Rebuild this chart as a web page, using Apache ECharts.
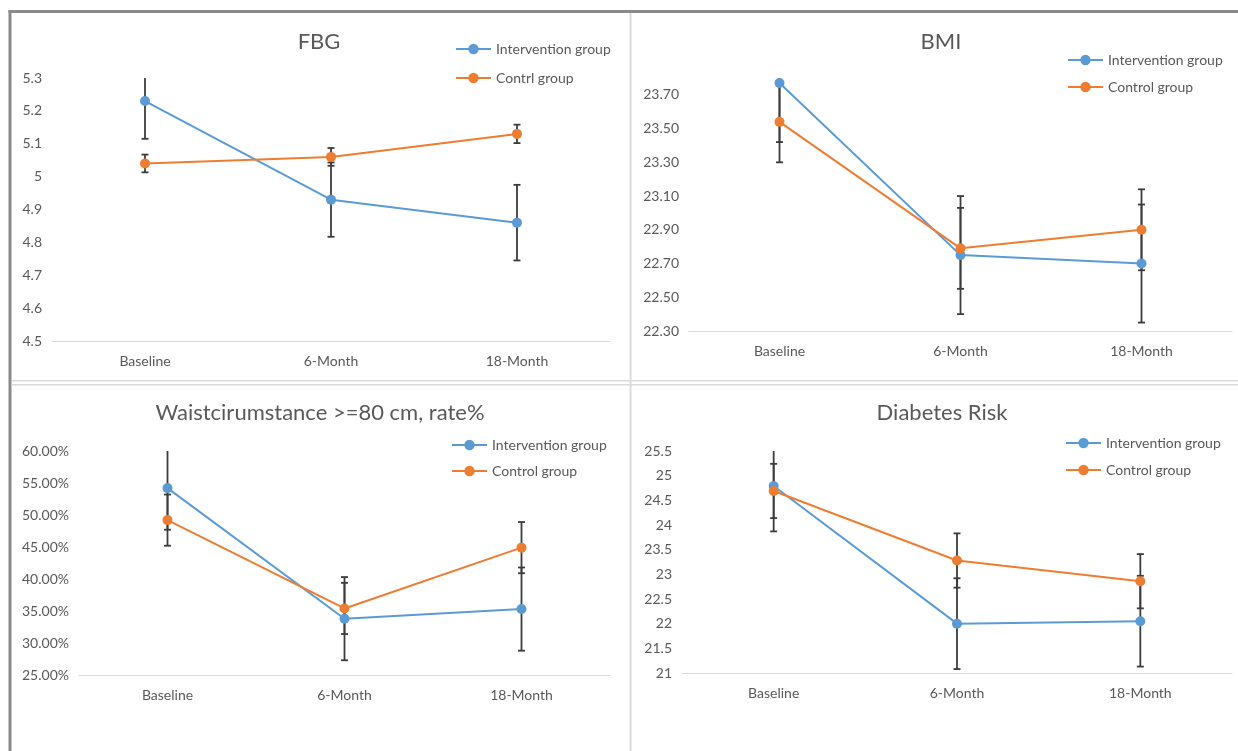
<!DOCTYPE html>
<html>
<head>
<meta charset="utf-8">
<script src="https://cdn.jsdelivr.net/npm/echarts@6/dist/echarts.min.js"></script>
<style>
  html, body { margin: 0; padding: 0; background: #ffffff; }
  #chart { width: 1238px; height: 751px; }
</style>
</head>
<body>
<div id="chart"></div>
<script>
// ---------- data ----------
const categories = ['Baseline', '6-Month', '18-Month'];

// FBG
const fbgIntervention = [5.23, 4.93, 4.86];
const fbgInterventionErr = [0.115, 0.113, 0.115];
const fbgControl = [5.04, 5.06, 5.13];
const fbgControlErr = [0.027, 0.027, 0.028];
const fbgTicks = [4.5, 4.6, 4.7, 4.8, 4.9, 5, 5.1, 5.2, 5.3];

// BMI
const bmiIntervention = [23.77, 22.75, 22.70];
const bmiInterventionErr = [0.35, 0.35, 0.35];
const bmiControl = [23.54, 22.79, 22.90];
const bmiControlErr = [0.24, 0.24, 0.24];
const bmiTicks = [22.3, 22.5, 22.7, 22.9, 23.1, 23.3, 23.5, 23.7];

// Waist circumference >= 80 cm, rate %
const waistIntervention = [54.2, 33.8, 35.3];
const waistInterventionErr = [6.5, 6.5, 6.5];
const waistControl = [49.2, 35.4, 44.9];
const waistControlErr = [4.0, 4.0, 4.0];
const waistTicks = [25, 30, 35, 40, 45, 50, 55, 60];

// Diabetes risk
const drIntervention = [24.79, 22.0, 22.05];
const drInterventionErr = [0.92, 0.92, 0.92];
const drControl = [24.69, 23.28, 22.86];
const drControlErr = [0.55, 0.55, 0.55];
const drTicks = [21, 21.5, 22, 22.5, 23, 23.5, 24, 24.5, 25, 25.5];

// ---------- styling ----------
const FONT = 'Lato';
const TXT = '#595959';
const BLUE = '#5B9BD5';
const ORANGE = '#ED7D31';
const ERR = '#3c3c3c';

const chart = echarts.init(document.getElementById('chart'), null, { renderer: 'canvas' });

const grids = [
  { left: 52, top: 78, width: 558, height: 263 },   // FBG
  { left: 689, top: 78, width: 543, height: 253 },  // BMI
  { left: 79, top: 451, width: 531, height: 224 },  // Waist
  { left: 682, top: 451, width: 550, height: 222 }  // Diabetes
];

function xAxisFor(i) {
  return {
    type: 'category', gridIndex: i, data: categories, boundaryGap: true,
    axisLine: { show: true, lineStyle: { color: '#d9d9d9', width: 1 } },
    axisTick: { show: false },
    axisLabel: { color: TXT, fontSize: 14, fontFamily: FONT, margin: 13 },
    splitLine: { show: false }
  };
}
function yAxisFor(i, min, max, ticks, fmt) {
  return {
    type: 'value', gridIndex: i, min: min, max: max,
    axisLine: { show: false }, axisTick: { show: false }, splitLine: { show: false },
    axisLabel: { color: TXT, fontSize: 14, fontFamily: FONT, margin: 10,
      customValues: ticks, formatter: fmt }
  };
}

function errRender(params, api) {
  const x = api.value(0), y = api.value(1), e = api.value(2);
  const top = api.coord([x, y + e]);
  const bot = api.coord([x, y - e]);
  const hw = 3.5;
  const st = { stroke: ERR, lineWidth: 1.8 };
  return {
    type: 'group',
    children: [
      { type: 'line', shape: { x1: top[0], y1: top[1], x2: bot[0], y2: bot[1] }, style: st },
      { type: 'line', shape: { x1: top[0] - hw, y1: top[1], x2: top[0] + hw, y2: top[1] }, style: st },
      { type: 'line', shape: { x1: bot[0] - hw, y1: bot[1], x2: bot[0] + hw, y2: bot[1] }, style: st }
    ]
  };
}

function lineSeries(name, data, color, gi) {
  return {
    type: 'line', name: name, data: data, xAxisIndex: gi, yAxisIndex: gi,
    symbol: 'circle', symbolSize: 10, z: 3,
    itemStyle: { color: color },
    lineStyle: { color: color, width: 2 },
    emphasis: { disabled: true }, animation: false
  };
}
function errSeries(vals, errs, gi) {
  return {
    type: 'custom', xAxisIndex: gi, yAxisIndex: gi, clip: true, z: 1,
    renderItem: errRender, silent: true, animation: false,
    data: categories.map((c, i) => [i, vals[i], errs[i]])
  };
}
function legendFor(names, left, top, gap) {
  return {
    orient: 'vertical', left: left, top: top, itemGap: gap, padding: 0,
    itemWidth: 35, itemHeight: 13, data: names,
    textStyle: { color: TXT, fontSize: 14, fontFamily: FONT, lineHeight: 16 },
    selectedMode: false
  };
}
function titleText(text, x, y) {
  return { type: 'text', x: x, y: y, silent: true,
    style: { text: text, fill: TXT, font: '22px ' + FONT, textAlign: 'center', textVerticalAlign: 'middle' } };
}

const option = {
  backgroundColor: '#ffffff',
  animation: false,
  grid: grids,
  xAxis: [xAxisFor(0), xAxisFor(1), xAxisFor(2), xAxisFor(3)],
  yAxis: [
    yAxisFor(0, 4.5, 5.3, fbgTicks, v => String(Math.round(v * 10) / 10)),
    yAxisFor(1, 22.3, 23.8, bmiTicks, v => v.toFixed(2)),
    yAxisFor(2, 25, 60, waistTicks, v => v.toFixed(2) + '%'),
    yAxisFor(3, 21, 25.5, drTicks, v => String(Math.round(v * 10) / 10))
  ],
  legend: [
    legendFor(['Intervention group', 'Contrl group'], 455, 41, 13),
    legendFor(['Intervention group', 'Control group'], 1067, 52, 11),
    legendFor(['Intervention group', 'Control group'], 451, 437, 10),
    legendFor(['Intervention group', 'Control group'], 1065, 435, 11)
  ],
  series: [
    errSeries(fbgIntervention, fbgInterventionErr, 0),
    errSeries(fbgControl, fbgControlErr, 0),
    lineSeries('Intervention group', fbgIntervention, BLUE, 0),
    lineSeries('Contrl group', fbgControl, ORANGE, 0),

    errSeries(bmiIntervention, bmiInterventionErr, 1),
    errSeries(bmiControl, bmiControlErr, 1),
    lineSeries('Intervention group', bmiIntervention, BLUE, 1),
    lineSeries('Control group', bmiControl, ORANGE, 1),

    errSeries(waistIntervention, waistInterventionErr, 2),
    errSeries(waistControl, waistControlErr, 2),
    lineSeries('Intervention group', waistIntervention, BLUE, 2),
    lineSeries('Control group', waistControl, ORANGE, 2),

    errSeries(drIntervention, drInterventionErr, 3),
    errSeries(drControl, drControlErr, 3),
    lineSeries('Intervention group', drIntervention, BLUE, 3),
    lineSeries('Control group', drControl, ORANGE, 3)
  ],
  graphic: [
    // outer frame
    { type: 'rect', silent: true, shape: { x: 8.5, y: 10, width: 1230, height: 3 }, style: { fill: '#8a8a8a' } },
    { type: 'rect', silent: true, shape: { x: 8.5, y: 10, width: 3, height: 741 }, style: { fill: '#8a8a8a' } },
    // dividers
    { type: 'rect', silent: true, shape: { x: 629.5, y: 13, width: 2, height: 738 }, style: { fill: '#d9d9d9' } },
    { type: 'rect', silent: true, shape: { x: 11.5, y: 380, width: 1227, height: 1.5 }, style: { fill: '#d9d9d9' } },
    { type: 'rect', silent: true, shape: { x: 11.5, y: 384, width: 1227, height: 1.5 }, style: { fill: '#d9d9d9' } },
    // titles
    titleText('FBG', 319, 42),
    titleText('BMI', 941, 42),
    titleText('Waistcirumstance >=80 cm, rate%', 320, 413),
    titleText('Diabetes Risk', 942, 413)
  ]
};
chart.setOption(option);
</script>
</body>
</html>
